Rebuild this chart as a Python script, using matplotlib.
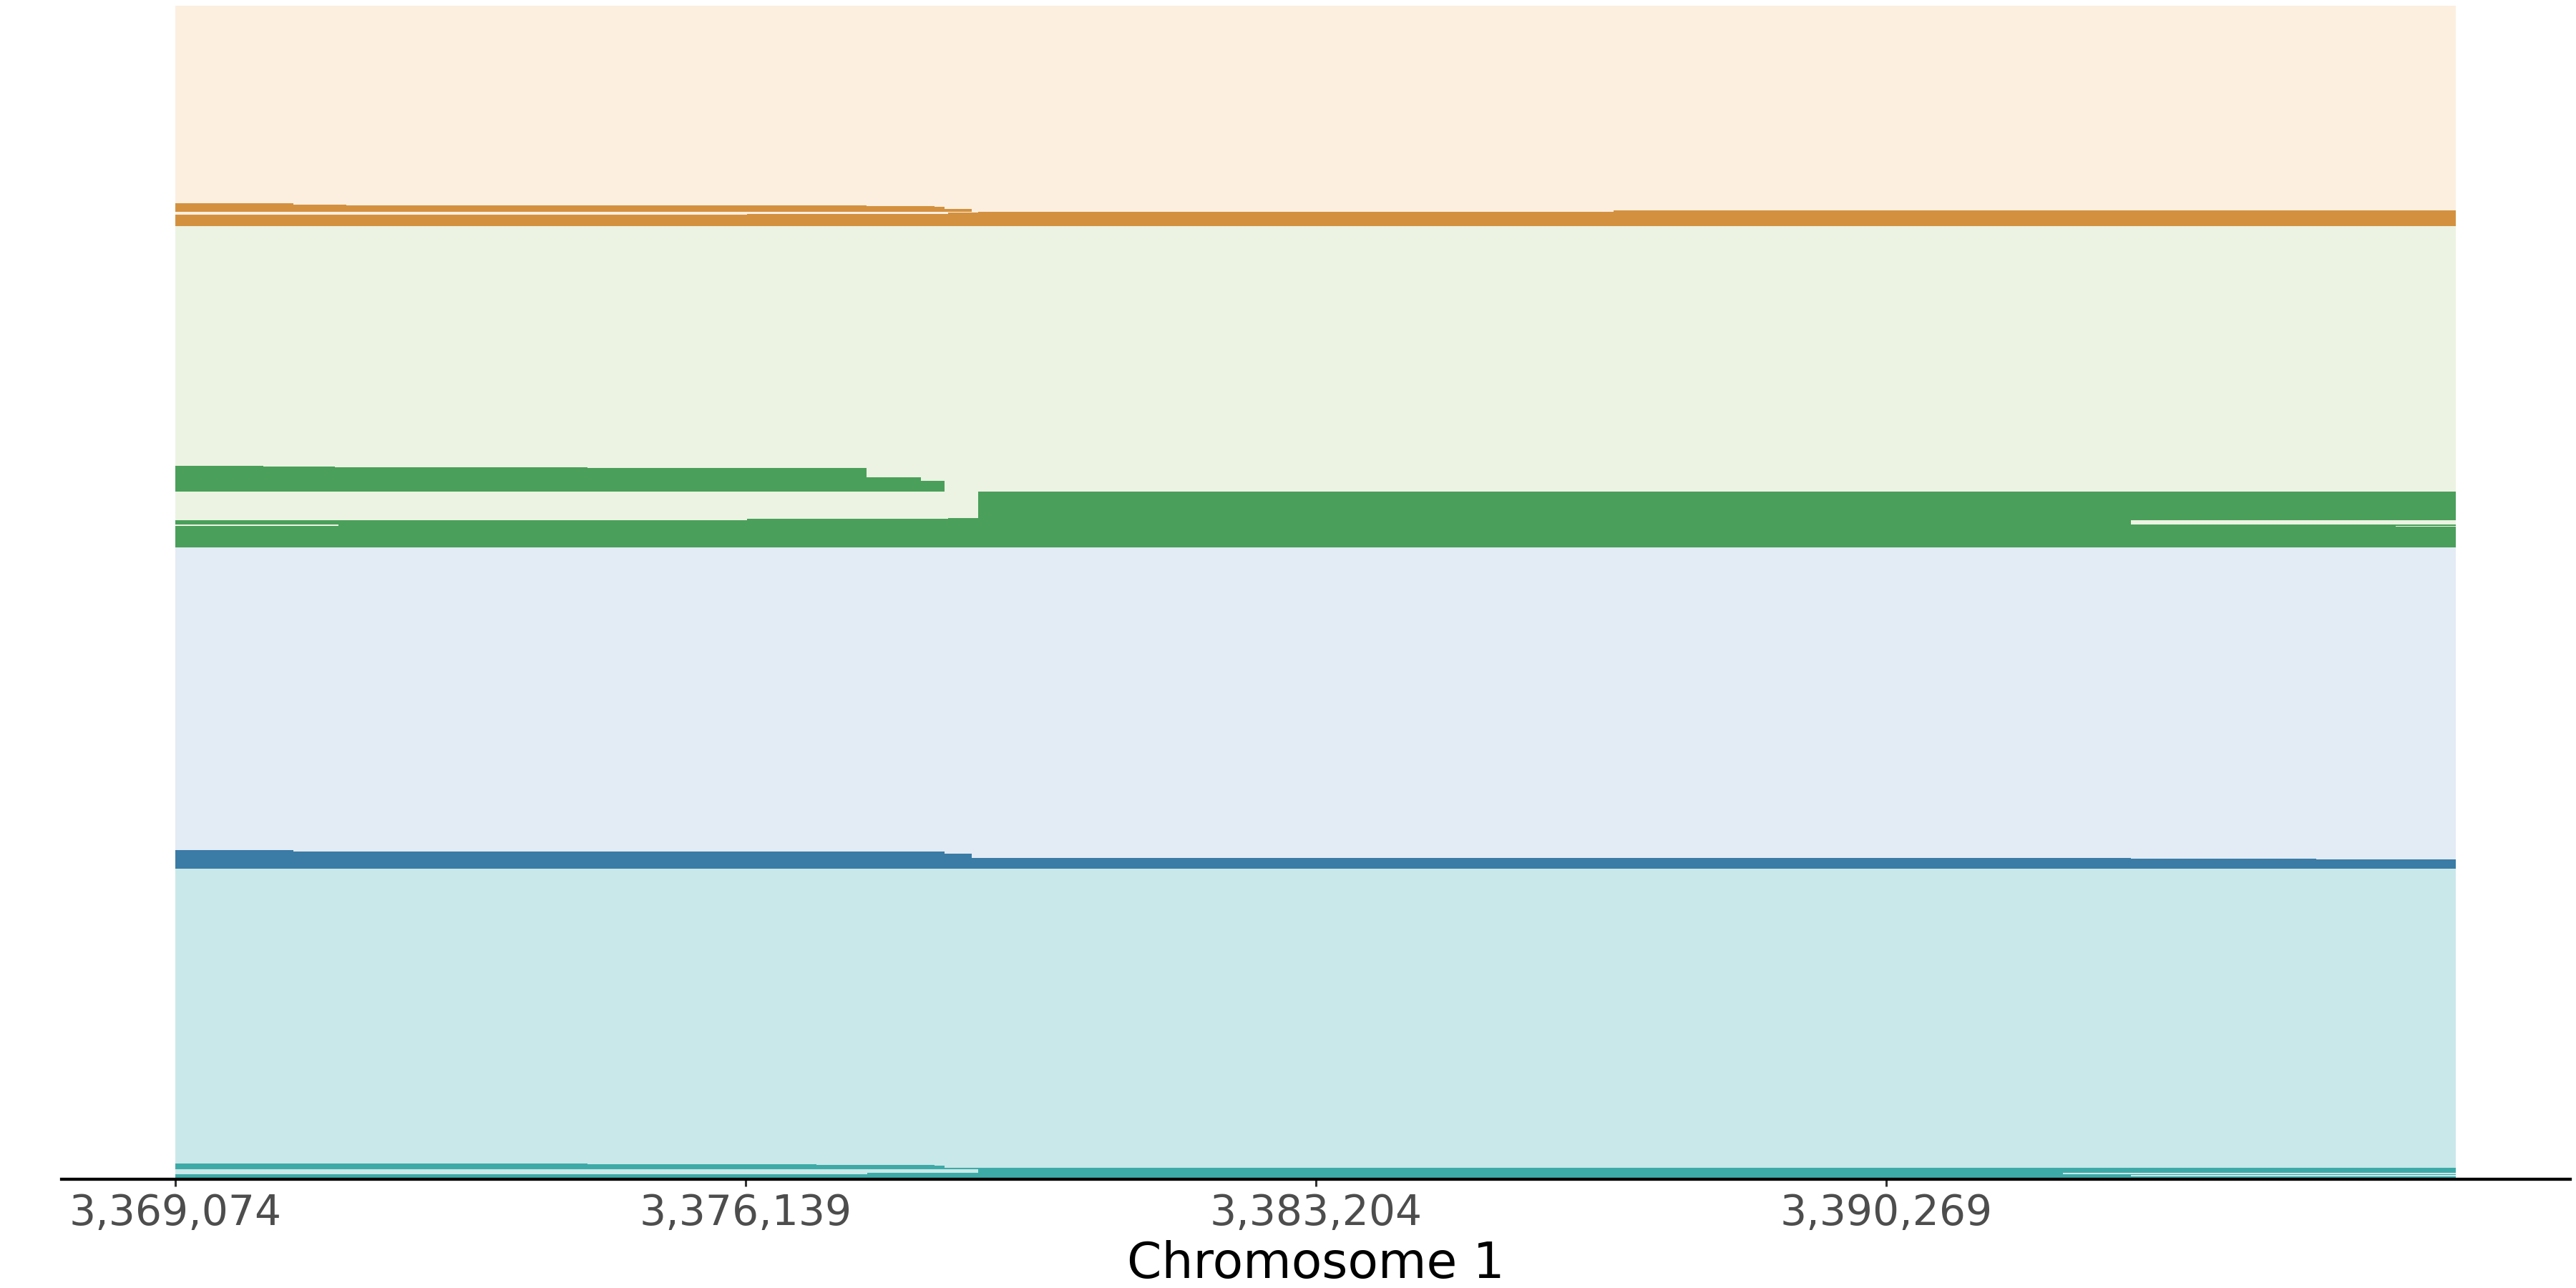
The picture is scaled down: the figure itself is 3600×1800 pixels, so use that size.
import numpy as np
import matplotlib.pyplot as plt

# region shown on the x axis
S = 3369074
E = 3397334
tick_pos = [3369074, 3376139, 3383204, 3390269]

# colours per group (background rows / tract rows)
light_colors = ['#fcefdf', '#ecf3e2', '#e3ebf4', '#c9e8e9']
dark_colors = ['#d3913f', '#4a9f5a', '#3a7ca6', '#3eaaa8']

# each group: number of rows in a block, and the dark tracts of those rows
orange_rows = [344, 3, 1, 2, 1, 4, 2, 2, 1, 1, 2, 1, 1, 20]
orange_tracts = [[], [(S, 3370533)], [(S, 3371189)], [(S, 3377635)],
                 [(S, 3378478)], [(S, 3378602)], [(S, 3378939)],
                 [(S, 3378939), (3386893, E)], [(3379515, E)], [(3379018, E)],
                 [(3378646, E)], [(3376154, E)], [(3370781, E)], [(S, E)]]

green_rows = [418, 1, 1, 1, 16, 7, 18, 47, 1, 2, 8, 2, 2, 36]
green_tracts = [[], [(S, 3370160)], [(S, 3371047)], [(S, 3374177)],
                [(S, 3377635)], [(S, 3378309)], [(S, 3378602)], [(3379018, E)],
                [(3378646, E)], [(3376154, E)], [(S, 3393304)], [(3371091, E)],
                [(S, 3396584)], [(S, E)]]

blue_rows = [528, 2, 4, 7, 1, 2, 16]
blue_tracts = [[], [(S, 3370533)], [(S, 3378602)], [(S, 3378939)],
               [(S, 3393304)], [(S, 3395600)], [(S, E)]]

teal_rows = [514, 1, 1, 1, 1, 4, 2, 6, 2, 1, 1, 2, 5]
teal_tracts = [[], [(S, 3374177)], [(S, 3377015)], [(S, 3377644)],
               [(S, 3378478)], [(S, 3378602)], [(S, E)], [(3379018, E)],
               [(3377644, 3392461)], [(3373929, E)], [(S, E)], [(S, 3393304)],
               [(S, E)]]

groups = [(orange_rows, orange_tracts), (green_rows, green_tracts),
          (blue_rows, blue_tracts), (teal_rows, teal_tracts)]

fig = plt.figure(figsize=(18, 9), dpi=200)
ax = fig.add_axes([0.0239, 0.0846, 0.9738, 0.9110])

row = 0
for (rows, tracts), light, dark in zip(groups, light_colors, dark_colors):
    n = sum(rows)
    ax.barh(np.arange(row, row + n), E - S, left=S, height=1.0, align='edge',
            color=light, linewidth=0)
    r = row
    for count, tr in zip(rows, tracts):
        for a, b in tr:
            ax.barh(np.arange(r, r + count), b - a, left=a, height=1.0,
                    align='edge', color=dark, linewidth=0)
        r += count
    row += n

ax.set_ylim(row, 0)
ax.set_xlim(S - 0.05 * (E - S), E + 0.05 * (E - S))

for side in ['left', 'right', 'top']:
    ax.spines[side].set_visible(False)
ax.spines['bottom'].set_linewidth(1.55)
ax.spines['bottom'].set_color('black')

ax.set_yticks([])
ax.set_xticks(tick_pos)
ax.set_xticklabels([f'{t:,}' for t in tick_pos])
ax.tick_params(axis='x', labelsize=21, colors='#333333', labelcolor='#4d4d4d',
               length=3.6, width=1.1)
ax.set_xlabel('Chromosome 1', fontsize=25, labelpad=3)

fig.savefig('out.png', dpi=200)
